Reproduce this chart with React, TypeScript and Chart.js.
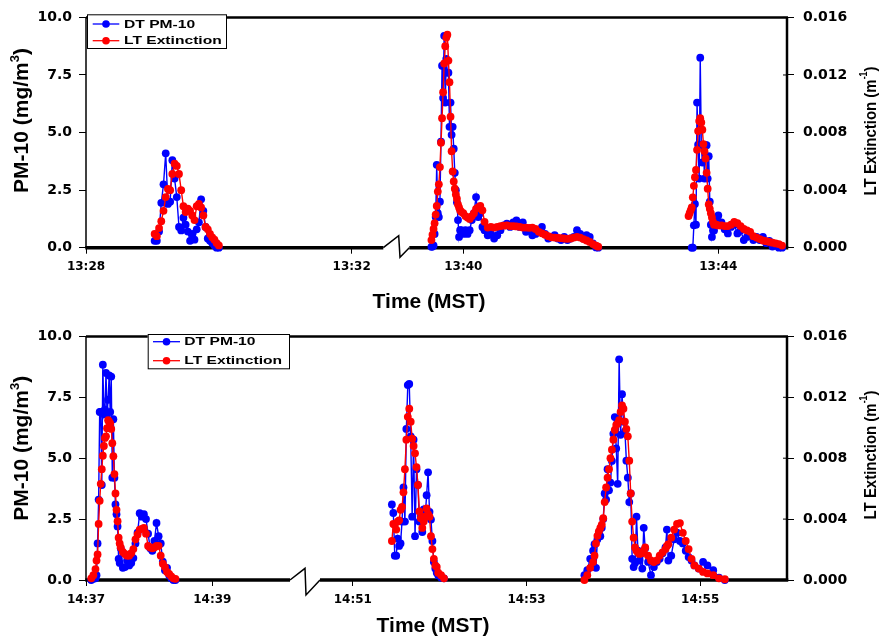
import React, { useEffect, useRef } from 'react';
import { Chart, registerables } from 'chart.js';

Chart.register(...registerables);

// ---------------- Series / axis text ----------------
const seriesPM = 'DT PM-10';
const seriesExt = 'LT Extinction';
const blue = '#0000ff';
const red = '#ff0000';

const topTickLabels = ['13:28', '13:32', '13:40', '13:44'];
const bottomTickLabels = ['14:37', '14:39', '14:51', '14:53', '14:55'];
const pmTicks = [0, 2.5, 5, 7.5, 10];
const extTicks = [0, 0.004, 0.008, 0.012, 0.016];

// ---------------- Top panel data ----------------
// event 1, seconds after 13:29:00
const top1Start = '13:29:00';
const top1Sec = [2, 4, 6, 8, 10, 12, 14, 16, 18, 20, 22, 24, 26, 28, 30, 32, 34, 36, 38, 40, 42, 44, 46, 48, 50, 52, 54, 56, 58, 60];
const top1PM = [0.3, 0.3, 0.7, 1.95, 2.75, 4.1, 1.9, 2.0, 3.8, 3.0, 2.2, 0.9, 0.75, 1.3, 1.0, 0.7, 0.3, 0.6, 0.35, 0.8, 1.1, 2.1, 1.6, 0.9, 0.4, 0.3, 0.2, 0.1, 0.0, 0.0];
const top1Ext = [0.00096, 0.0008, 0.00136, 0.00184, 0.00256, 0.00352, 0.00408, 0.004, 0.00512, 0.00584, 0.00568, 0.00512, 0.004, 0.00288, 0.00248, 0.00272, 0.00256, 0.00224, 0.00192, 0.00288, 0.00304, 0.0028, 0.00224, 0.00144, 0.00128, 0.00096, 0.00072, 0.00056, 0.00032, 0.00016];

// event 2, seconds after 13:39:30
const top2Start = '13:39:30';
const top2Sec = [0, 1, 2, 3, 4, 5, 6, 7, 8, 9, 10, 11, 12, 13, 14, 15, 16, 17, 18, 19, 20, 21, 22, 23, 24, 25, 26, 27, 28,
  30, 32, 34, 36, 38, 40, 42, 44, 46, 48, 50,
  53, 56, 59, 62, 65, 68, 71, 74, 77, 80, 83, 86, 89, 92, 95, 98, 101, 104, 107, 110, 113, 116, 119, 122, 125, 128, 131, 134, 137, 140, 143, 146, 149, 152, 155, 157];
const top2PM = [0.04, 0.05, 0.1, 0.6, 1.33, 3.6, 1.5, 1.33, 2.0, 4.6, 7.9, 6.5, 9.2, 6.3, 8.2, 7.6, 7.6, 5.25, 6.3, 4.9, 5.25, 4.3, 3.25, 2.5, 1.97, 1.2, 0.47, 0.76, 0.76,
  0.6, 0.76, 0.6, 0.76, 1.2, 1.5, 2.2, 1.33, 1.5, 0.9, 0.76,
  0.54, 0.6, 0.4, 0.54, 0.76, 0.97, 1.04, 0.9, 1.1, 1.19, 0.9, 1.1, 0.69, 0.76, 0.54, 0.6, 0.76, 0.9, 0.6, 0.4, 0.47, 0.54, 0.4, 0.33, 0.47, 0.33, 0.4, 0.47, 0.76, 0.6, 0.4, 0.54, 0.47, 0.19, 0.01, 0.0];
const top2Ext = [0.00053, 0.0009, 0.0013, 0.0017, 0.0023, 0.0029, 0.0039, 0.0044, 0.0056, 0.0073, 0.009, 0.0108, 0.0128, 0.014, 0.0146, 0.0148, 0.013, 0.0115, 0.0091, 0.0067, 0.0053, 0.0046, 0.0041, 0.0037, 0.0034, 0.003, 0.0028, 0.0026, 0.0025,
  0.0024, 0.0022, 0.0021, 0.002, 0.0022, 0.0024, 0.0027, 0.0028, 0.0029, 0.0026, 0.0018,
  0.0014, 0.00145, 0.0014, 0.00145, 0.0015, 0.00153, 0.00155, 0.0015, 0.0015, 0.00148, 0.00145, 0.0014, 0.0014, 0.00138, 0.0014, 0.0013, 0.0011, 0.001, 0.0009, 0.0008, 0.00072, 0.0007, 0.00068, 0.00066, 0.00064, 0.00062, 0.00064, 0.0007, 0.00075, 0.0007, 0.0006, 0.0005, 0.0004, 0.00025, 0.00014, 0.00007];

// event 3, seconds after 13:43:30
const top3Start = '13:43:30';
const top3Sec = [2, 3, 4, 5, 6, 7, 8, 9, 10, 11, 12, 13, 14, 15, 16, 17, 18, 19, 20, 21, 22, 23, 24, 25, 26, 28, 30,
  33, 36, 39, 42, 45, 48, 51, 54, 57, 60, 63, 66, 69, 72, 75, 78, 81, 84, 87, 90];
const top3PM = [null, null, null, 0.0, 0.0, 0.97, 1.9, 1.0, 6.3, 4.47, 3.0, 8.25, 4.47, 3.7, 4.45, 3.0, 4.45, 4.45, 3.0, 3.97, 2.0, 1.0, 0.47, 0.75, 0.75, 1.2, 1.4,
  1.1, 0.8, 0.62, 0.9, 1.0, 0.62, 0.75, 0.33, 0.47, 0.6, 0.33, 0.47, 0.33, 0.47, 0.2, 0.3, 0.05, 0.1, 0.0, 0.0];
const top3Ext = [0.0022, 0.0024, 0.0026, 0.0028, 0.0035, 0.0043, 0.0049, 0.0054, 0.0068, 0.0081, 0.0088, 0.009, 0.0087, 0.0082, 0.0072, 0.0067, 0.0062, 0.0052, 0.0041, 0.003, 0.0027, 0.0024, 0.0021, 0.0018, 0.0016, 0.0016, 0.00155,
  0.00155, 0.0015, 0.0015, 0.0016, 0.0018, 0.0017, 0.0015, 0.0013, 0.0012, 0.0011, 0.0008, 0.0007, 0.0006, 0.0005, 0.00045, 0.0004, 0.00035, 0.0003, 0.00025, 0.00015];

// ---------------- Bottom panel data ----------------
// event 4, seconds after 14:37:00
const bot1Start = '14:37:00';
const bot1Sec = [5, 7, 9, 10, 11, 12, 13, 14, 15, 16, 17, 18, 19, 20, 21, 22, 23, 24, 25, 26, 27, 28, 29, 30, 31, 32, 33,
  35, 37, 39, 41, 43, 45, 47, 49, 51, 53, 55, 57, 59, 61, 63, 65, 67, 69, 71, 73, 75, 77, 79, 81, 83, 85];
const bot1PM = [0.0, 0.05, 0.07, 0.2, 1.5, 3.3, 6.9, 6.9, 3.9, 8.84, 6.8, 7.0, 8.5, 6.8, 7.4, 8.4, 6.9, 8.35, 4.2, 6.6, 4.2, 3.1, 2.7, 2.2, 0.87, 0.7, 1.3,
  0.5, 0.53, 0.8, 0.6, 0.7, 0.9, 1.5, 1.94, 2.74, 2.6, 2.7, 2.5, 1.9, 1.3, 1.2, 1.6, 2.34, 1.8, 1.5, 0.75, 0.4, 0.5, 0.2, 0.07, 0.0, 0.0];
const bot1Ext = [0.00011, 0.00032, 0.00072, 0.00128, 0.00168, 0.00368, 0.0052, 0.00632, 0.00728, 0.00816, 0.0088, 0.00933, 0.00944, 0.00997, 0.0105, 0.0104, 0.01029, 0.00992, 0.00899, 0.00813, 0.00696, 0.00568, 0.00461, 0.00386, 0.00278, 0.0024, 0.00214,
  0.00184, 0.00171, 0.0016, 0.0016, 0.00176, 0.00203, 0.00267, 0.00299, 0.00331, 0.00336, 0.00342, 0.00304, 0.00224, 0.00214, 0.00208, 0.00214, 0.00224, 0.00224, 0.0016, 0.00107, 0.00085, 0.00053, 0.0004, 0.00024, 0.00011, 0.00008];

// event 5, seconds after 14:51:00
const bot2Start = '14:51:00';
const bot2Sec = [27, 28, 29, 30, 31, 32, 33, 34, 35, 36, 37, 38, 39, 40, 41, 42, 43, 44, 45, 46, 47, 48, 49, 50, 51, 52, 53, 54, 55, 56, 57, 58, 59, 61, 63];
const bot2PM = [3.1, 2.75, 1.0, 1.0, 1.7, 1.4, 1.5, 2.4, 3.8, 2.4, 6.2, 8.0, 8.05, 5.9, 2.6, 5.76, 1.8, 4.55, 3.9, 2.4, 2.6, 1.97, 2.9, 2.6, 3.48, 4.42, 2.8, 2.48, 1.6, 0.74, 0.47, 0.3, 0.2, 0.1, 0.07];
const bot2Ext = [0.00256, 0.00368, 0.00363, 0.00331, 0.00384, 0.00392, 0.00461, 0.0048, 0.00576, 0.00728, 0.00922, 0.01072, 0.01125, 0.0104, 0.00928, 0.0088, 0.00832, 0.00742, 0.00624, 0.0045, 0.00406, 0.00342, 0.00384, 0.00416, 0.0047, 0.00432, 0.00416, 0.00288, 0.00203, 0.00139, 0.00096, 0.00086, 0.00048, 0.00032, 0.00011];

// event 6, seconds after 14:53:00
const bot3Start = '14:53:00';
const bot3Sec = [40, 42, 44, 46, 47, 48, 49, 50, 51, 52, 53, 54, 55, 56, 57, 58, 59, 60, 61, 62, 63, 64, 65, 66, 67, 68, 69, 70, 71, 72, 73, 74, 75, 76, 77, 78,
  80, 81, 82, 84, 86, 88, 90, 92, 94, 96, 97, 98, 100, 102, 104, 106, 108, 110, 112, 114, 116, 119, 122, 125, 129, 133, 137];
const bot3PM = [0.2, 0.4, 0.87, 1.2, 1.47, 0.5, 1.67, 1.94, 1.8, 2.14, 2.5, 3.55, 3.3, 4.55, 3.68, 4.0, 4.89, 6.0, 6.69, 5.4, 3.95, 9.06, 5.96, 7.63, 6.5, 6.1, 4.9, 4.2, 3.2, 3.55, 0.87, 0.53, 0.7, 2.6, 1.2, 0.8,
  0.47, 2.14, 1.3, 0.74, 0.2, 0.53, 0.74, 0.87, 1.1, 1.34, 2.07, 0.8, 1.0, 1.67, 1.94, 1.6, 1.5, 1.2, 0.94, 0.8, 0.6, 0.47, 0.74, 0.6, 0.4, 0.1, 0.0];
const bot3Ext = [0.0, 0.00032, 0.0008, 0.00118, 0.0016, 0.0024, 0.0029, 0.0032, 0.00342, 0.00363, 0.00406, 0.00512, 0.00608, 0.00672, 0.00728, 0.008, 0.00856, 0.00922, 0.00986, 0.01018, 0.01029, 0.0105, 0.01104, 0.01146, 0.01125, 0.0104, 0.00992, 0.00944, 0.00784, 0.00568, 0.00384, 0.00278, 0.00214, 0.00192, 0.00182, 0.00171,
  0.00176, 0.00192, 0.00214, 0.0016, 0.00128, 0.00118, 0.00128, 0.0016, 0.00182, 0.00203, 0.00224, 0.00235, 0.00278, 0.00331, 0.00368, 0.00374, 0.0031, 0.00256, 0.00203, 0.00139, 0.00096, 0.00075, 0.00053, 0.00043, 0.00032, 0.00011, 0.00005];

// ---------------- helpers ----------------
type Peak = { start: string; sec: number[]; pm: (number | null)[]; ext: number[] };
type Segment = { start: string; end: string; from: number; to: number };

const toSec = (hms: string) => {
  const p = hms.split(':').map(Number);
  return p[0] * 3600 + p[1] * 60 + (p[2] || 0);
};

function makeMapper(segments: Segment[]) {
  const segs = segments.map((s) => ({ t0: toSec(s.start), t1: toSec(s.end), p0: s.from, p1: s.to }));
  return (t: number) => {
    let best = segs[0];
    let bestD = Infinity;
    for (const s of segs) {
      const d = t < s.t0 ? s.t0 - t : t > s.t1 ? t - s.t1 : 0;
      if (d < bestD) { bestD = d; best = s; }
    }
    return best.p0 + ((t - best.t0) * (best.p1 - best.p0)) / (best.t1 - best.t0);
  };
}

const topPeaks: Peak[] = [
  { start: top1Start, sec: top1Sec, pm: top1PM, ext: top1Ext },
  { start: top2Start, sec: top2Sec, pm: top2PM, ext: top2Ext },
  { start: top3Start, sec: top3Sec, pm: top3PM, ext: top3Ext },
];
const bottomPeaks: Peak[] = [
  { start: bot1Start, sec: bot1Sec, pm: bot1PM, ext: bot1Ext },
  { start: bot2Start, sec: bot2Sec, pm: bot2PM, ext: bot2Ext },
  { start: bot3Start, sec: bot3Sec, pm: bot3PM, ext: bot3Ext },
];

type PanelCfg = {
  top: number; height: number; plotTop: number; plotBottom: number;
  segments: Segment[]; tickLabels: string[]; peaks: Peak[]; tickPad: number;
  brk: { from: number; to: number; peakX: number; troughX: number; up: number; down: number };
  legend: { x: number; y: number; w: number; h: number; rows: number[]; lineX0: number; lineX1: number; textX: number };
  titles: { yLeftX: number; yLeftY: number; yRightX: number; yRightY: number; timeX: number; timeY: number };
};

const panels: PanelCfg[] = [
  {
    top: 0, height: 319, plotTop: 14.3, plotBottom: 247.7,
    segments: [
      { start: '13:28', end: '13:32', from: 0, to: 265.7 },
      { start: '13:40', end: '13:44', from: 377.3, to: 632.3 },
    ],
    tickLabels: topTickLabels, peaks: topPeaks, tickPad: 5.5,
    brk: { from: 297.3, to: 323.3, peakX: 312.7, troughX: 314, up: 12, down: 9.6 },
    legend: { x: 87, y: 14.3, w: 140, h: 34.7, rows: [24, 40.7], lineX0: 92.7, lineX1: 119.3, textX: 124 },
    titles: { yLeftX: 22.5, yLeftY: 120.5, yRightX: 871.5, yRightY: 131, timeX: 429, timeY: 308 },
  },
  {
    top: 319, height: 319, plotTop: 12, plotBottom: 261,
    segments: [
      { start: '14:37', end: '14:39', from: 0, to: 126.3 },
      { start: '14:51', end: '14:55', from: 266.8, to: 614.2 },
    ],
    tickLabels: bottomTickLabels, peaks: bottomPeaks, tickPad: 6.8,
    brk: { from: 204, to: 234, peakX: 219, troughX: 220, up: 11.7, down: 15 },
    legend: { x: 147.7, y: 15, w: 142.3, h: 35.3, rows: [22.7, 41.7], lineX0: 153, lineX1: 180, textX: 184.3 },
    titles: { yLeftX: 22.5, yLeftY: 129.3, yRightX: 871.5, yRightY: 136, timeX: 433, timeY: 312.7 },
  },
];

type Part = { text: string; font: string; dy: number };

function drawRich(ctx: CanvasRenderingContext2D, parts: Part[], cx: number, cy: number, rot: number, baseline: CanvasTextBaseline, sx = 1) {
  ctx.save();
  ctx.translate(cx, cy);
  ctx.rotate(rot);
  ctx.scale(sx, 1);
  ctx.fillStyle = '#000';
  ctx.textBaseline = baseline;
  ctx.textAlign = 'left';
  const widths = parts.map((p) => { ctx.font = p.font; return ctx.measureText(p.text).width; });
  let x = -widths.reduce((a, b) => a + b, 0) / 2;
  parts.forEach((p, i) => {
    ctx.font = p.font;
    ctx.fillText(p.text, x, p.dy);
    x += widths[i];
  });
  ctx.restore();
}

function makePlugin(p: PanelCfg) {
  return {
    id: 'frameAndDecor',
    beforeDatasetsDraw(chart: any) {
      const { ctx, chartArea: a, scales } = chart;
      const xs = scales.x;
      const line = (x0: number, y0: number, x1: number, y1: number) => {
        ctx.beginPath(); ctx.moveTo(x0, y0); ctx.lineTo(x1, y1); ctx.stroke();
      };
      ctx.save();
      ctx.strokeStyle = '#000';
      ctx.lineWidth = 2.5;
      line(a.left, a.top, a.right + 1, a.top);
      ctx.lineWidth = 1.5;
      line(a.left, a.top, a.left, a.bottom);
      ctx.lineWidth = 2.5;
      line(a.right, a.top, a.right, a.bottom);
      ctx.lineWidth = 1;
      for (const v of extTicks) {
        const py = scales.y2.getPixelForValue(v);
        line(a.right - 4, py, a.right, py);
      }
      const g0 = xs.getPixelForValue(p.brk.from);
      const g1 = xs.getPixelForValue(p.brk.to);
      ctx.lineWidth = 3.5;
      line(a.left - 0.75, a.bottom, g0, a.bottom);
      line(g1, a.bottom, a.right + 1.25, a.bottom);
      ctx.lineWidth = 1.5;
      ctx.beginPath();
      ctx.moveTo(g0, a.bottom);
      ctx.lineTo(xs.getPixelForValue(p.brk.peakX), a.bottom - p.brk.up);
      ctx.lineTo(xs.getPixelForValue(p.brk.troughX), a.bottom + p.brk.down);
      ctx.lineTo(g1, a.bottom);
      ctx.stroke();
      ctx.restore();
    },
    afterDatasetsDraw(chart: any) {
      const { ctx } = chart;
      const L = p.legend;
      ctx.save();
      ctx.fillStyle = '#fff';
      ctx.fillRect(L.x, L.y, L.w, L.h);
      ctx.strokeStyle = '#000';
      ctx.lineWidth = 1;
      ctx.strokeRect(L.x + 0.5, L.y + 0.5, L.w - 1, L.h - 1);
      const rows = [
        { label: seriesPM, color: blue },
        { label: seriesExt, color: red },
      ];
      rows.forEach((r, i) => {
        const y = L.rows[i];
        ctx.strokeStyle = r.color;
        ctx.lineWidth = 1.3;
        ctx.beginPath(); ctx.moveTo(L.lineX0, y); ctx.lineTo(L.lineX1, y); ctx.stroke();
        ctx.fillStyle = r.color;
        ctx.beginPath(); ctx.arc((L.lineX0 + L.lineX1) / 2, y, 3.8, 0, Math.PI * 2); ctx.fill();
        ctx.save();
        ctx.translate(L.textX, y);
        ctx.scale(1.42, 1);
        ctx.fillStyle = '#000';
        ctx.font = 'bold 11px "Liberation Sans", Arial, sans-serif';
        ctx.textBaseline = 'middle';
        ctx.textAlign = 'left';
        ctx.fillText(r.label, 0, 0.5);
        ctx.restore();
      });
      ctx.restore();

      const T = p.titles;
      const big = 'bold 21px "Liberation Sans", Arial, sans-serif';
      drawRich(ctx, [
        { text: 'PM-10 (mg/m', font: big, dy: 0 },
        { text: '3', font: 'bold 13px "Liberation Sans", Arial, sans-serif', dy: -7 },
        { text: ')', font: big, dy: 0 },
      ], T.yLeftX, T.yLeftY, -Math.PI / 2, 'middle');
      const mid = 'bold 17px "Liberation Sans", Arial, sans-serif';
      drawRich(ctx, [
        { text: 'LT Extinction (m', font: mid, dy: 0 },
        { text: '-1', font: 'bold 10px "Liberation Sans", Arial, sans-serif', dy: -7 },
        { text: ')', font: mid, dy: 0 },
      ], T.yRightX, T.yRightY, -Math.PI / 2, 'middle', 0.88);
      drawRich(ctx, [{ text: 'Time (MST)', font: big, dy: 0 }], T.timeX, T.timeY, 0, 'alphabetic');
    },
  };
}

function buildSeries(p: PanelCfg, map: (t: number) => number) {
  const pm: any[] = [];
  const ext: any[] = [];
  p.peaks.forEach((pk, k) => {
    const t0 = toSec(pk.start);
    if (k > 0) {
      pm.push({ x: map(t0), y: null });
      ext.push({ x: map(t0), y: null });
    }
    pk.sec.forEach((s, i) => {
      const x = map(t0 + s);
      pm.push({ x, y: pk.pm[i] });
      ext.push({ x, y: pk.ext[i] });
    });
  });
  return { pm, ext };
}

const tickFont = { family: '"DejaVu Sans", Verdana, sans-serif', size: 14, weight: 'bold' as const };
const xTickFont = { family: '"DejaVu Sans", Verdana, sans-serif', size: 12, weight: 'bold' as const };

function Panel({ p }: { p: PanelCfg }) {
  const ref = useRef<HTMLCanvasElement>(null);
  useEffect(() => {
    if (!ref.current) return;
    const map = makeMapper(p.segments);
    const tickVals = p.tickLabels.map((l) => map(toSec(l)));
    const { pm, ext } = buildSeries(p, map);
    const common = {
      showLine: true, borderWidth: 1.4, pointRadius: 3.9, pointHoverRadius: 3.9,
      pointBorderWidth: 0, spanGaps: false, clip: false as const, tension: 0,
    };
    const chart = new Chart(ref.current, {
      type: 'line',
      data: {
        datasets: [
          { ...common, label: seriesExt, data: ext, yAxisID: 'y2', borderColor: red, backgroundColor: red, pointBackgroundColor: red, order: 0 },
          { ...common, label: seriesPM, data: pm, yAxisID: 'y', borderColor: blue, backgroundColor: blue, pointBackgroundColor: blue, order: 1 },
        ],
      },
      options: {
        animation: false,
        responsive: false,
        devicePixelRatio: 1,
        parsing: false as any,
        layout: { padding: { top: p.plotTop, left: 0, right: 0, bottom: 0 } },
        plugins: { legend: { display: false }, tooltip: { enabled: false }, title: { display: false } },
        scales: {
          x: {
            type: 'linear', min: 0, max: 701,
            afterBuildTicks: (s: any) => { s.ticks = tickVals.map((v) => ({ value: v })); },
            afterFit: (s: any) => { s.height = p.height - p.plotBottom; },
            ticks: {
              autoSkip: false, maxRotation: 0, minRotation: 0, padding: p.tickPad, color: '#000', font: xTickFont,
              callback: (_v: any, i: number) => p.tickLabels[i],
            },
            grid: { drawOnChartArea: false, drawTicks: true, tickLength: 6, tickColor: '#000', tickWidth: 1 },
            border: { display: false },
          },
          y: {
            type: 'linear', position: 'left', min: 0, max: 10,
            afterBuildTicks: (s: any) => { s.ticks = pmTicks.map((v) => ({ value: v })); },
            afterFit: (s: any) => { s.width = 86; },
            ticks: { padding: 7, color: '#000', font: tickFont, callback: (v: any) => Number(v).toFixed(1) },
            grid: { drawOnChartArea: false, drawTicks: true, tickLength: 7, tickColor: '#000', tickWidth: 1 },
            border: { display: false },
          },
          y2: {
            type: 'linear', position: 'right', min: 0, max: 0.016,
            afterBuildTicks: (s: any) => { s.ticks = extTicks.map((v) => ({ value: v })); },
            afterFit: (s: any) => { s.width = 92; },
            ticks: { padding: 9, color: '#000', font: tickFont, callback: (v: any) => Number(v).toFixed(3) },
            grid: { drawOnChartArea: false, drawTicks: true, tickLength: 7, tickColor: '#000', tickWidth: 1 },
            border: { display: false },
          },
        },
      } as any,
      plugins: [makePlugin(p)],
    });
    return () => chart.destroy();
  }, [p]);
  return (
    <canvas
      ref={ref}
      width={879}
      height={p.height}
      style={{ position: 'absolute', left: 0, top: p.top, width: 879, height: p.height }}
    />
  );
}

export default function App() {
  return (
    <div style={{ position: 'absolute', left: 0, top: 0, width: 879, height: 638, background: '#fff' }}>
      {panels.map((p, i) => (
        <Panel key={i} p={p} />
      ))}
    </div>
  );
}
